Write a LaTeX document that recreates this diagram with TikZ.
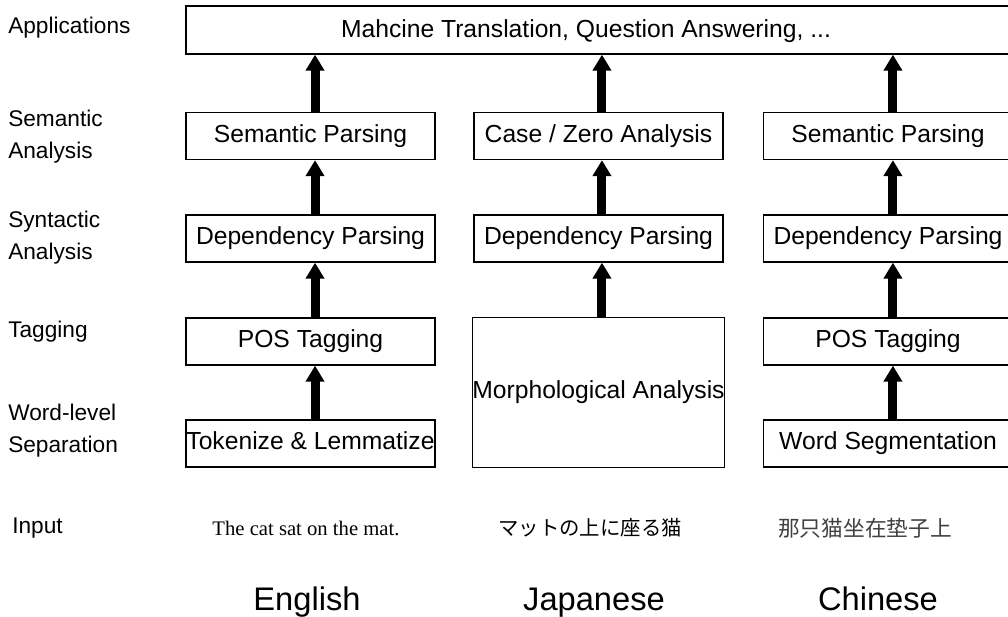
\documentclass[tikz,border=0pt]{standalone}
\usepackage{fontspec}
\setmainfont{Liberation Sans}
\newfontfamily\serifen{Liberation Serif}
\newfontfamily\jpfont{Noto Sans CJK JP}
\newfontfamily\zhfont{Noto Sans CJK SC}
\usetikzlibrary{arrows.meta}
\begin{document}
\begin{tikzpicture}[x=0.75pt,y=-0.75pt,
  box/.style={draw, line width=1pt, minimum width=186.75pt, minimum height=35.25pt,
    inner sep=0pt, text height=13.2pt, text depth=3.9pt, font=\fontsize{18.5}{22}\selectfont},
  up/.style={line width=6.75pt, -{Triangle[width=13.5pt,length=12pt]}},
  lab/.style={anchor=west, align=left, inner sep=0pt, font=\fontsize{17}{24}\selectfont},
  inp/.style={inner sep=0pt},
  lang/.style={inner sep=0pt, anchor=base, font=\fontsize{24.5}{28}\selectfont}]
\useasboundingbox (0,0) rectangle (1008,617);
% left labels
\node[lab] (lApp) at (8,28) {Applications};
\node[lab] (lSem) at (8,137) {Semantic\\Analysis};
\node[lab] (lSyn) at (8,238) {Syntactic\\Analysis};
\node[lab] (lTag) at (8,332) {Tagging};
\node[lab] (lWord) at (8,431) {Word-level\\Separation};
\node[lab] (lIn) at (12,528) {Input};
% top box
\node[draw, line width=1pt, minimum width=620.25pt, minimum height=36pt, inner sep=0pt] (app) at (599.5,30) {};
\node[inp, text height=13.2pt, text depth=3.9pt, font=\fontsize{18.5}{22}\selectfont] (apptext) at (586,31) {Mahcine Translation, Question Answering, ...};
% English
\node[box] (e1) at (310.5,136) {Semantic Parsing};
\node[box] (e2) at (310.5,238.5) {Dependency Parsing};
\node[box] (e3) at (310.5,341.5) {POS Tagging};
\node[box] (e4) at (310.5,443.5) {Tokenize \& Lemmatize};
% Japanese
\node[box] (j1) at (598.5,136) {Case / Zero Analysis};
\node[box] (j2) at (598.5,238.5) {Dependency Parsing};
\node[box, minimum height=112.5pt] (j3) at (598.5,392.5) {Morphological Analysis};
% Chinese
\node[box] (c1) at (888,136) {Semantic Parsing};
\node[box] (c2) at (888,238.5) {Dependency Parsing};
\node[box] (c3) at (888,341.5) {POS Tagging};
\node[box] (c4) at (888,443.5) {Word Segmentation};
% arrows
\draw[up] ([xshift=3.4pt]e4.north) -- ([xshift=3.4pt]e3.south);
\draw[up] ([xshift=3.4pt]e3.north) -- ([xshift=3.4pt]e2.south);
\draw[up] ([xshift=3.4pt]e2.north) -- ([xshift=3.4pt]e1.south);
\draw[up] ([xshift=3.4pt]e1.north) -- ([xshift=3.4pt]e1.north |- app.south);
\draw[up] ([xshift=2.6pt]j3.north) -- ([xshift=2.6pt]j2.south);
\draw[up] ([xshift=2.6pt]j2.north) -- ([xshift=2.6pt]j1.south);
\draw[up] ([xshift=2.6pt]j1.north) -- ([xshift=2.6pt]j1.north |- app.south);
\draw[up] ([xshift=3.7pt]c4.north) -- ([xshift=3.7pt]c3.south);
\draw[up] ([xshift=3.7pt]c3.north) -- ([xshift=3.7pt]c2.south);
\draw[up] ([xshift=3.7pt]c2.north) -- ([xshift=3.7pt]c1.south);
\draw[up] ([xshift=3.7pt]c1.north) -- ([xshift=3.7pt]c1.north |- app.south);
% inputs
\node[inp, font=\serifen\fontsize{15.5}{18}\selectfont] (ien) at (306,528) {The cat sat on the mat.};
\node[inp, font=\jpfont\fontsize{15.3}{18}\selectfont] (ijp) at (590,528) {マットの上に座る猫};
\node[inp, font=\zhfont\fontsize{16.3}{18}\selectfont, text=black!75] (izh) at (865,528) {那只猫坐在垫子上};
% languages
\node[lang] (len) at (307,610) {English};
\node[lang] (ljp) at (594,610) {Japanese};
\node[lang] (lzh) at (878,610) {Chinese};
\end{tikzpicture}
\end{document}
